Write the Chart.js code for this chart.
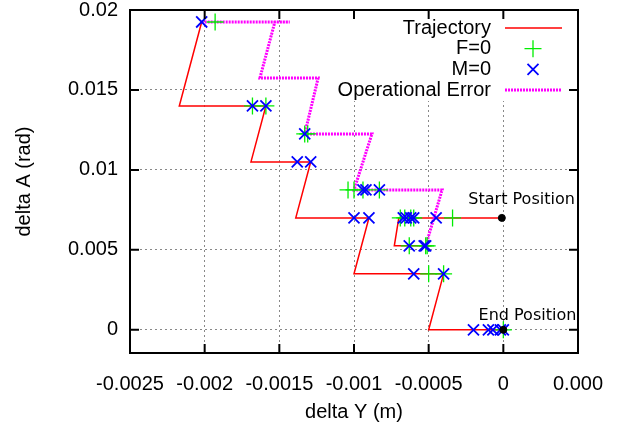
<!DOCTYPE html>
<html>
<head>
<meta charset="utf-8">
<script src="https://cdn.jsdelivr.net/npm/chart.js@4.4.0/dist/chart.umd.min.js"></script>
<style>
  html, body { margin: 0; padding: 0; background: #fff; }
  canvas { display: block; }
</style>
</head>
<body>
<canvas id="trajectory-chart" width="634" height="428"></canvas>
<script>
// delta Y (m) / delta A (rad) pairs, null = pen up
const trajectoryY = [-0.00202, -0.00217, -0.00159, -0.00169, -0.00129, -0.00139, -0.0009, -0.001, -0.0004, -0.0005, 0, null, -0.00001, -0.0007, -0.00073, -0.00048];
const trajectoryA = [0.01925, 0.014, 0.014, 0.0105, 0.0105, 0.007, 0.007, 0.0035, 0.0035, 0, 0, null, 0.007, 0.007, 0.00525, 0.00525];

const opErrorY = [-0.00202, -0.00143, -0.00153, -0.00163, -0.00124, -0.00133, -0.00088, -0.001, -0.00041, -0.00052];
const opErrorA = [0.01925, 0.01925, 0.01925, 0.01575, 0.01575, 0.01225, 0.01225, 0.00875, 0.00875, 0.00525];

const forceZeroY = [-0.00193, -0.00168, -0.00159, -0.00133, -0.00131, -0.00104, -0.001, -0.00094, -0.00083, -0.00069, -0.00066, -0.00062, -0.0006, -0.00034, -0.00063, -0.00052, -0.00051, -0.0005, -0.0004, 0];
const forceZeroA = [0.01925, 0.014, 0.014, 0.01225, 0.01225, 0.00875, 0.00875, 0.00875, 0.00875, 0.007, 0.007, 0.007, 0.007, 0.007, 0.00525, 0.00525, 0.00525, 0.0035, 0.0035, 0];

const momentZeroY = [-0.00202, -0.00168, -0.00159, -0.00133, -0.00138, -0.00129, -0.00094, -0.00092, -0.00083, -0.001, -0.0009, -0.00067, -0.00065, -0.00062, -0.0006, -0.00045, -0.00063, -0.00053, -0.00052, -0.0006, -0.0004, -0.0002, -0.0001, -0.00007, -0.00002, 0];
const momentZeroA = [0.01925, 0.014, 0.014, 0.01225, 0.0105, 0.0105, 0.00875, 0.00875, 0.00875, 0.007, 0.007, 0.007, 0.007, 0.007, 0.007, 0.007, 0.00525, 0.00525, 0.00525, 0.0035, 0.0035, 0, 0, 0, 0, 0];

const positionNames = ['Start Position', 'End Position'];
const positionY = [-0.00001, 0];
const positionA = [0.007, 0];

const xTicks = [-0.0025, -0.002, -0.0015, -0.001, -0.0005, 0, 0.0005];
const xTickLabels = ['-0.0025', '-0.002', '-0.0015', '-0.001', '-0.0005', '0', '0.000'];
const yTicks = [0, 0.005, 0.01, 0.015, 0.02];
const yTickLabels = ['0', '0.005', '0.01', '0.015', '0.02'];

function points(xs, ys) {
  return xs.map((x, i) => ({x: x, y: ys[i]}));
}

const helv = '"Liberation Sans", Arial, Helvetica, sans-serif';
Chart.defaults.font.family = helv;
Chart.defaults.font.size = 20;
Chart.defaults.color = '#000';

function drawMarker(ctx, style, cx, cy) {
  ctx.beginPath();
  if (style === 'cross') {
    ctx.moveTo(cx - 8.5, cy); ctx.lineTo(cx + 8.5, cy);
    ctx.moveTo(cx, cy - 8.5); ctx.lineTo(cx, cy + 8.5);
  } else {
    const d = 5.5;
    ctx.moveTo(cx - d, cy - d); ctx.lineTo(cx + d, cy + d);
    ctx.moveTo(cx - d, cy + d); ctx.lineTo(cx + d, cy - d);
  }
  ctx.stroke();
}

// gnuplot look: frame with inward ticks, key box in the top right, labels
const gnuplotFrame = {
  id: 'gnuplotFrame',
  beforeDatasetsDraw(chart) {
    const {ctx, chartArea: a} = chart;
    ctx.save();
    ctx.fillStyle = '#fff';
    ctx.fillRect(a.right - 298, a.top + 1, 297, 90);
    ctx.restore();
  },
  afterDraw(chart) {
    const {ctx, chartArea: a, scales: {x, y}} = chart;
    ctx.save();
    ctx.strokeStyle = '#000';
    ctx.lineWidth = 2;
    ctx.beginPath();
    x.ticks.forEach(t => {
      const px = x.getPixelForValue(t.value);
      ctx.moveTo(px, a.bottom); ctx.lineTo(px, a.bottom - 9);
      ctx.moveTo(px, a.top); ctx.lineTo(px, a.top + 9);
    });
    y.ticks.forEach(t => {
      const py = y.getPixelForValue(t.value);
      ctx.moveTo(a.left, py); ctx.lineTo(a.left + 9, py);
      ctx.moveTo(a.right, py); ctx.lineTo(a.right - 9, py);
    });
    ctx.stroke();
    ctx.strokeRect(a.left, a.top, a.right - a.left, a.bottom - a.top);

    // key
    const keyed = chart.data.datasets.filter(ds => ds.inKey);
    keyed.forEach((ds, i) => {
      const ky = a.top + 18 + i * 20.7;
      ctx.font = '20px ' + helv;
      ctx.fillStyle = '#000';
      ctx.textAlign = 'right';
      ctx.textBaseline = 'middle';
      ctx.fillText(ds.label, a.right - 87, ky);
      ctx.strokeStyle = ds.borderColor;
      if (ds.showLine) {
        ctx.lineWidth = ds.borderWidth;
        ctx.setLineDash(ds.borderDash || []);
        ctx.beginPath();
        ctx.moveTo(a.right - 73, ky); ctx.lineTo(a.right - 16, ky);
        ctx.stroke();
        ctx.setLineDash([]);
      } else {
        ctx.lineWidth = ds.pointBorderWidth;
        drawMarker(ctx, ds.pointStyle, a.right - 45, ky);
      }
    });

    // position labels
    ctx.font = '16px "DejaVu Sans", sans-serif';
    ctx.fillStyle = '#000';
    ctx.textAlign = 'right';
    ctx.textBaseline = 'middle';
    positionNames.forEach((name, i) => {
      const px = x.getPixelForValue(positionY[i]);
      const py = y.getPixelForValue(positionA[i]);
      ctx.fillText(name, px + 73, py - (i === 0 ? 18 : 14));
    });
    ctx.restore();
  }
};

new Chart(document.getElementById('trajectory-chart').getContext('2d'), {
  type: 'scatter',
  data: {
    datasets: [
      {
        label: 'Trajectory',
        inKey: true,
        data: points(trajectoryY, trajectoryA),
        showLine: true,
        borderColor: '#ff0000',
        borderWidth: 1.5,
        pointRadius: 0,
        spanGaps: false,
        order: 3
      },
      {
        label: 'F=0',
        inKey: true,
        data: points(forceZeroY, forceZeroA),
        pointStyle: 'cross',
        pointRadius: 8.5,
        borderColor: '#00ee00',
        pointBorderWidth: 1.3,
        borderWidth: 1.3,
        order: 1
      },
      {
        label: 'M=0',
        inKey: true,
        data: points(momentZeroY, momentZeroA),
        pointStyle: 'crossRot',
        pointRadius: 7.8,
        borderColor: '#0000ff',
        pointBorderWidth: 1.8,
        borderWidth: 1.8,
        order: 0
      },
      {
        label: 'Operational Error',
        inKey: true,
        data: points(opErrorY, opErrorA),
        showLine: true,
        borderColor: '#ff00ff',
        borderWidth: 3,
        borderDash: [2, 1],
        pointRadius: 0,
        order: 2
      },
      {
        label: 'Positions',
        inKey: false,
        data: points(positionY, positionA),
        pointStyle: 'circle',
        pointRadius: 3.5,
        backgroundColor: '#000',
        borderColor: '#000',
        order: -1
      }
    ]
  },
  options: {
    responsive: false,
    animation: false,
    layout: { padding: { left: 0, right: 56, top: 10, bottom: 0 } },
    plugins: {
      legend: { display: false },
      tooltip: { enabled: false }
    },
    scales: {
      x: {
        type: 'linear',
        min: -0.0025,
        max: 0.0005,
        afterBuildTicks: axis => { axis.ticks = xTicks.map(v => ({value: v})); },
        afterFit: axis => {
          axis.height = 75;
          axis.paddingLeft = 0;
          axis.paddingRight = 0;
        },
        ticks: {
          callback: (v, i) => xTickLabels[i],
          autoSkip: false,
          maxRotation: 0,
          padding: 21,
          font: { size: 20, lineHeight: 1 }
        },
        grid: { color: '#888', lineWidth: 1, drawTicks: false },
        border: { display: false, dash: [2, 3] },
        title: { display: true, text: 'delta Y (m)', padding: { top: 0, bottom: 4 }, font: { size: 20 } }
      },
      y: {
        type: 'linear',
        min: -0.00145,
        max: 0.02,
        afterBuildTicks: axis => { axis.ticks = yTicks.map(v => ({value: v})); },
        afterFit: axis => {
          axis.width = 130;
          axis.paddingTop = 0;
          axis.paddingBottom = 0;
        },
        ticks: {
          callback: (v, i) => yTickLabels[i],
          padding: 12,
          font: { size: 20, lineHeight: 1 }
        },
        grid: { color: '#888', lineWidth: 1, drawTicks: false },
        border: { display: false, dash: [2, 3] },
        title: { display: true, text: 'delta A (rad)', padding: { top: 12, bottom: 0 }, font: { size: 20 } }
      }
    }
  },
  plugins: [gnuplotFrame]
});
</script>
</body>
</html>
